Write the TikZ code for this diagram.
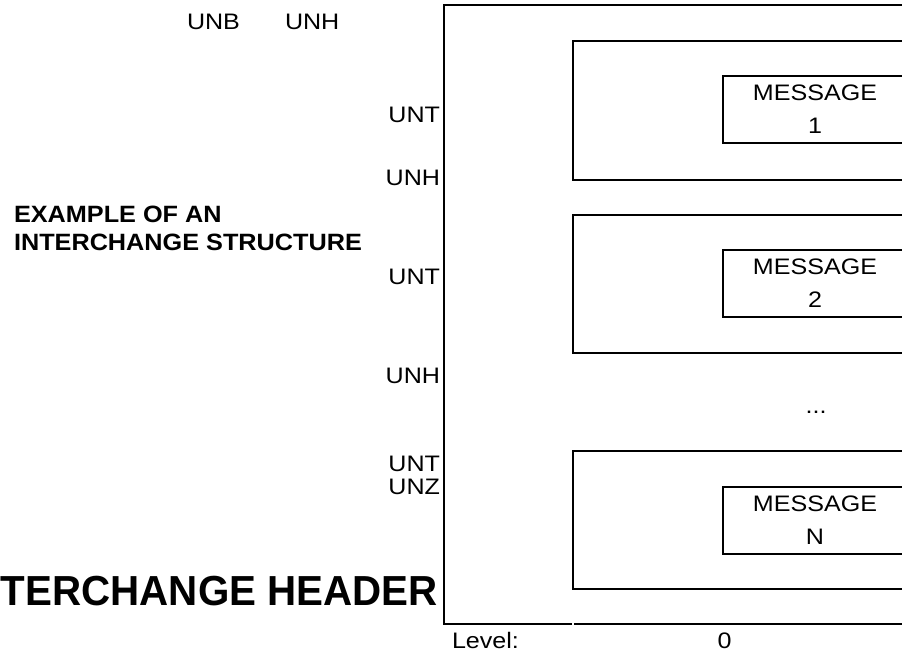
\documentclass[tikz,border=0pt]{standalone}
\usepackage{fontspec}
\setmainfont{Liberation Sans}
\newfontfamily\labfont[FakeStretch=1.12]{Liberation Sans}
\newfontfamily\ttlfont[FakeStretch=1.07]{Liberation Sans}
\newfontfamily\bigfont[FakeStretch=0.96]{Liberation Sans}
\begin{document}
\begin{tikzpicture}[x=1pt,y=-1pt,
  lab/.style={font=\labfont\fontsize{22.4}{33}\selectfont, inner sep=0pt, outer sep=0pt},
  ttl/.style={font=\ttlfont\bfseries\fontsize{23.6}{29}\selectfont, inner sep=0pt, outer sep=0pt, align=left},
  frameline/.style={line width=2.2pt},
  msgbox/.style={draw, line width=2.2pt, minimum width=184pt, minimum height=67pt,
    align=center, inner sep=0pt, font=\labfont\fontsize{22.4}{33}\selectfont}]
\useasboundingbox (0,0) rectangle (902,658);

% outer interchange frame
\draw[frameline] (912,5) -- (444,5) -- (444,624) -- (572,624);
\draw[frameline] (574,624) -- (912,624);

% functional-group level boxes
\draw[frameline] (912,41) -- (573,41) -- (573,180) -- (912,180);
\draw[frameline] (912,215) -- (573,215) -- (573,353) -- (912,353);
\draw[frameline] (912,451) -- (573,451) -- (573,589) -- (912,589);

% message boxes
\node[msgbox] (m1) at (815,109.5) {MESSAGE\\1};
\node[msgbox] (m2) at (815,283.5) {MESSAGE\\2};
\node[msgbox] (mn) at (815,520.5) {MESSAGE\\N};
\node[lab, anchor=base] (dots) at (816,413) {...};

% segment tags
\node[lab, anchor=base west] (unb) at (187,30) {UNB};
\node[lab, anchor=base west] (unh0) at (285,30) {UNH};
\node[lab, anchor=base east] (unt1) at (440,123) {UNT};
\node[lab, anchor=base east] (unh1) at (440,185) {UNH};
\node[lab, anchor=base east] (unt2) at (440,284) {UNT};
\node[lab, anchor=base east] (unh2) at (440,383) {UNH};
\node[lab, anchor=base east] (unt3) at (440,471) {UNT};
\node[lab, anchor=base east] (unz) at (440,494) {UNZ};

% titles
\node[ttl, anchor=base west] (ex1) at (14,222) {EXAMPLE OF AN};
\node[ttl, anchor=base west] (ex2) at (14,250) {INTERCHANGE STRUCTURE};
\node[font=\bigfont\bfseries\fontsize{42}{42}\selectfont, inner sep=0pt, anchor=base east] (hdr) at (438,605) {TERCHANGE HEADER};

% level row
\node[lab, anchor=base west] (lvl) at (452,648) {Level:};
\node[lab, anchor=base] (l0) at (724.5,648) {0};
\end{tikzpicture}
\end{document}
